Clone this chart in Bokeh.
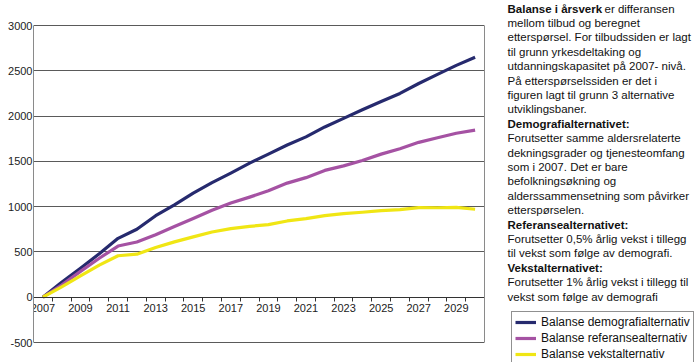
from bokeh.plotting import figure
from bokeh.layouts import row
from bokeh.models import Range1d, FixedTicker, Legend, LegendItem, Label, LinearAxis, Grid
from bokeh.embed import file_html
from bokeh.resources import INLINE

# ---------------- data ----------------
years = list(range(2007, 2031))
demografi = [0, 165, 320, 480, 650, 750, 900, 1020, 1150, 1265, 1370, 1480,
             1580, 1680, 1770, 1880, 1975, 2070, 2160, 2250, 2360, 2460, 2560, 2650]
referanse = [0, 135, 285, 430, 565, 610, 690, 780, 870, 960, 1040, 1105,
             1175, 1260, 1320, 1400, 1450, 1510, 1580, 1640, 1710, 1760, 1810, 1845]
vekst = [0, 115, 235, 355, 458, 475, 548, 611, 666, 720, 758, 782,
         802, 842, 868, 901, 923, 938, 957, 968, 990, 988, 992, 971]

series_names = ["Balanse demografialternativ", "Balanse referansealternativ",
                "Balanse vekstalternativ"]
series_colors = ["#262a6e", "#a552a3", "#f0e614"]

x_tick_years = list(range(2007, 2030, 2))
x_tick_labels = [str(y) for y in x_tick_years]
x_boundaries = [y - 0.5 for y in range(2007, 2032)]
y_ticks = [-500, 0, 500, 1000, 1500, 2000, 2500, 3000]
y_tick_labels = ["-500", "0", "500", "1000", "1500", "2000", "2500", "3000"]

text_lines = [
    [("Balanse i årsverk", "bold"), (" er differansen", "normal")],
    [("mellom tilbud og beregnet", "normal")],
    [("etterspørsel. For tilbudssiden er lagt", "normal")],
    [("til grunn yrkesdeltaking og", "normal")],
    [("utdanningskapasitet på 2007- nivå.", "normal")],
    [("På etterspørselssiden er det i", "normal")],
    [("figuren lagt til grunn 3 alternative", "normal")],
    [("utviklingsbaner.", "normal")],
    [("Demografialternativet:", "bold")],
    [("Forutsetter samme aldersrelaterte", "normal")],
    [("dekningsgrader og tjenesteomfang", "normal")],
    [("som i 2007. Det er bare", "normal")],
    [("befolkningsøkning og", "normal")],
    [("alderssammensetning som påvirker", "normal")],
    [("etterspørselen.", "normal")],
    [("Referansealternativet:", "bold")],
    [("Forutsetter 0,5% årlig vekst i tillegg", "normal")],
    [("til vekst som følge av demografi.", "normal")],
    [("Vekstalternativet:", "bold")],
    [("Forutsetter 1% årlig vekst i tillegg til", "normal")],
    [("vekst som følge av demografi", "normal")],
]

FONT = "Liberation Sans"
H = 362
WA, WB = 500, 200

# plot area in pixels (frame spans full height; value range extended around it)
TOP_PX, BOTTOM_PX = 25, 342
Y_MIN, Y_MAX = y_ticks[0], y_ticks[-1]
upp = (Y_MAX - Y_MIN) / (BOTTOM_PX - TOP_PX)
y_lo = Y_MIN - (H - BOTTOM_PX) * upp
y_hi = Y_MAX + TOP_PX * upp

# ---------------- chart ----------------
p = figure(width=WA, height=H, output_backend="svg", toolbar_location=None, title=None,
           x_range=Range1d(2006.5, 2030.5), y_range=Range1d(y_lo, y_hi),
           min_border_left=33, min_border_right=16, min_border_top=0,
           min_border_bottom=0, x_axis_location=None, y_axis_location=None)
for g in list(p.grid):
    g.visible = False
p.outline_line_color = None

grid = Grid(dimension=1, ticker=FixedTicker(ticks=y_ticks),
            grid_line_color="#5a5a5a", grid_line_width=1)
p.add_layout(grid)

yaxis = LinearAxis(ticker=FixedTicker(ticks=y_ticks), bounds=(Y_MIN, Y_MAX),
                   major_label_overrides={t: l for t, l in zip(y_ticks, y_tick_labels)},
                   major_tick_in=0, major_tick_out=0, minor_tick_in=0, minor_tick_out=0,
                   axis_line_color="#8a8a8a", major_label_standoff=1,
                   major_label_text_font=FONT, major_label_text_font_size="11px",
                   major_label_text_color="#222222")
p.add_layout(yaxis, "left")

raxis = LinearAxis(ticker=FixedTicker(ticks=[]), bounds=(Y_MIN, Y_MAX),
                   major_tick_in=0, major_tick_out=0, minor_tick_in=0, minor_tick_out=0,
                   axis_line_color="#8a8a8a", major_label_standoff=0)
p.add_layout(raxis, "right")

xaxis = LinearAxis(ticker=FixedTicker(ticks=x_tick_years, minor_ticks=x_boundaries),
                   fixed_location=0,
                   major_label_overrides={t: l for t, l in zip(x_tick_years, x_tick_labels)},
                   major_tick_in=0, major_tick_out=0, minor_tick_in=0, minor_tick_out=4,
                   minor_tick_line_color="#333333",
                   axis_line_color="#333333", major_label_standoff=3,
                   major_label_text_font=FONT, major_label_text_font_size="11px",
                   major_label_text_color="#222222")
p.add_layout(xaxis, "below")

series_values = [demografi, referanse, vekst]
for vals, col in zip(series_values, series_colors):
    p.line(years, vals, line_color=col, line_width=3.2, line_join="round")

# ---------------- text + legend panel ----------------
q = figure(width=WB, height=H, output_backend="svg", toolbar_location=None, title=None,
           x_range=Range1d(0, WB), y_range=Range1d(H, 0),
           min_border_left=0, min_border_right=0, min_border_top=0,
           min_border_bottom=0, x_axis_location=None, y_axis_location=None)
for g in list(q.grid):
    g.visible = False
q.outline_line_color = None

# legend keys: same series, which fall outside this panel's ranges (only the legend shows them)
legend_renderers = []
for vals, col in zip(series_values, series_colors):
    legend_renderers.append(q.line(years, vals, line_color=col, line_width=3.2))

legend = Legend(items=[LegendItem(label=n, renderers=[r]) for n, r in zip(series_names, legend_renderers)],
                location=(11, -3), padding=3, spacing=2, glyph_width=21, glyph_height=14,
                label_height=14, label_standoff=5, label_text_font=FONT,
                label_text_font_size="12px", label_text_color="#111111",
                border_line_color="#222222", border_line_width=1,
                background_fill_color="white", background_fill_alpha=1)
q.add_layout(legend)

x0 = 7
bold_width = 97
for i, parts in enumerate(text_lines):
    y = 8 + 14.4 * i
    xx = x0
    for txt, style in parts:
        q.add_layout(Label(x=xx, y=y, text=txt,
                           text_font=FONT, text_font_size="11.5px", text_font_style=style,
                           text_baseline="middle", text_color="#111111"))
        xx += bold_width

layout = row(p, q)
open("out.html", "w").write(file_html(layout, INLINE))
